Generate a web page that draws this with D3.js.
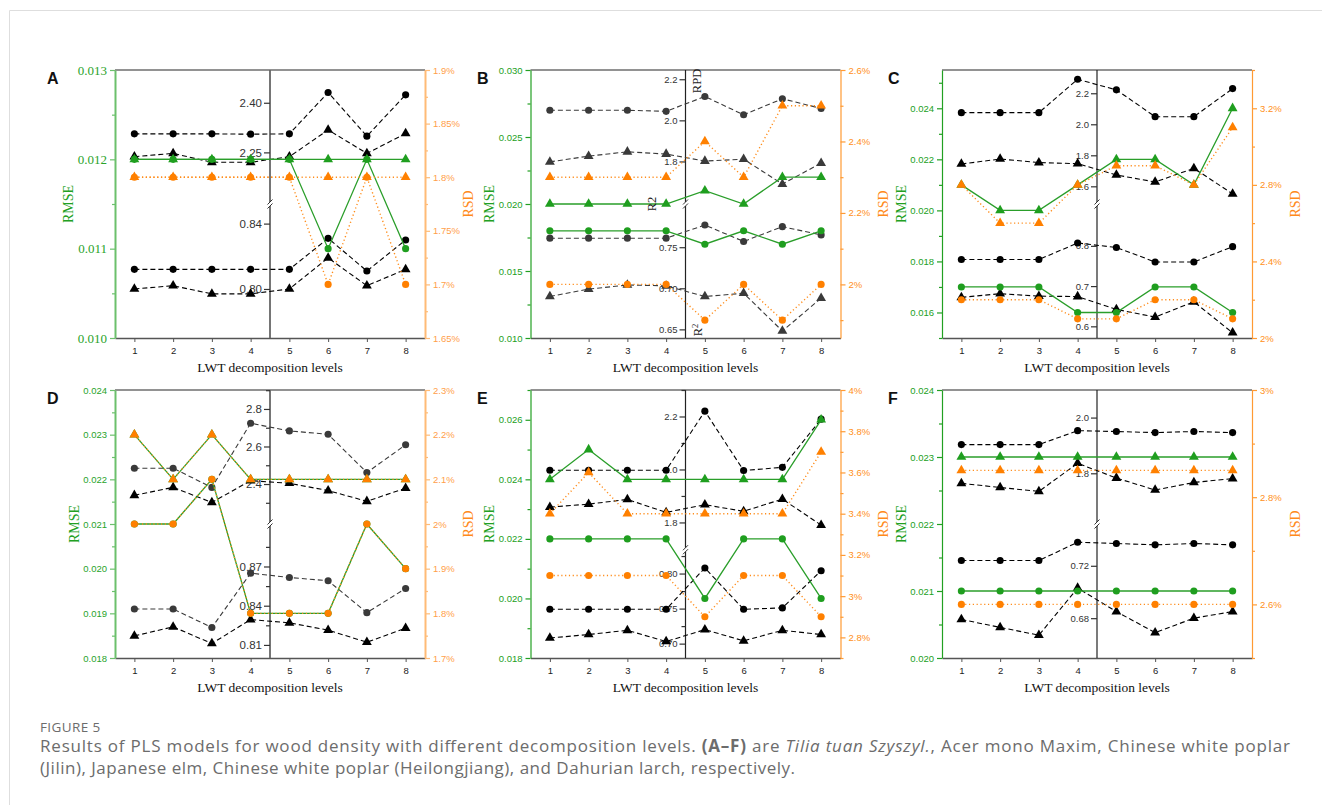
<!DOCTYPE html>
<html>
<head>
<meta charset="utf-8">
<script src="https://cdn.jsdelivr.net/npm/d3@7"></script>
<style>
  body { margin: 0; background: #fff; }
  svg { display: block; }
</style>
</head>
<body>
<svg id="fig" width="1322" height="805"></svg>
<script>
// LWT decomposition levels shared by every panel
const levels = [1, 2, 3, 4, 5, 6, 7, 8];

// ---- Panel A: Tilia tuan Szyszyl. ----
const rmseCalA = [0.012, 0.012, 0.012, 0.012, 0.012, 0.011, 0.012, 0.011];
const rmsePreA = [0.012, 0.012, 0.012, 0.012, 0.012, 0.012, 0.012, 0.012];
const rsdCalA  = [1.8, 1.8, 1.8, 1.8, 1.8, 1.7, 1.8, 1.7];
const rsdPreA  = [1.8, 1.8, 1.8, 1.8, 1.8, 1.8, 1.8, 1.8];
const rpdCalA  = [2.306, 2.306, 2.306, 2.305, 2.306, 2.431, 2.299, 2.424];
const rpdPreA  = [2.237, 2.247, 2.220, 2.220, 2.237, 2.318, 2.247, 2.307];
const r2CalA   = [0.812, 0.812, 0.812, 0.812, 0.812, 0.831, 0.811, 0.830];
const r2PreA   = [0.800, 0.802, 0.797, 0.797, 0.800, 0.819, 0.802, 0.812];

// ---- Panel B: Acer mono Maxim ----
const rmseCalB = [0.018, 0.018, 0.018, 0.018, 0.017, 0.018, 0.017, 0.018];
const rmsePreB = [0.020, 0.020, 0.020, 0.020, 0.021, 0.020, 0.022, 0.022];
const rsdCalB  = [2.0, 2.0, 2.0, 2.0, 1.9, 2.0, 1.9, 2.0];
const rsdPreB  = [2.3, 2.3, 2.3, 2.3, 2.4, 2.3, 2.5, 2.5];
const rpdCalB  = [2.049, 2.049, 2.049, 2.044, 2.116, 2.027, 2.105, 2.058];
const rpdPreB  = [1.798, 1.826, 1.847, 1.836, 1.802, 1.811, 1.690, 1.792];
const r2CalB   = [0.761, 0.761, 0.761, 0.761, 0.777, 0.757, 0.775, 0.765];
const r2PreB   = [0.690, 0.699, 0.704, 0.703, 0.690, 0.694, 0.648, 0.688];

// ---- Panel C: Chinese white poplar (Jilin) ----
const rmseCalC = [0.017, 0.017, 0.017, 0.016, 0.016, 0.017, 0.017, 0.016];
const rmsePreC = [0.021, 0.020, 0.020, 0.021, 0.022, 0.022, 0.021, 0.024];
const rsdCalC  = [2.2, 2.2, 2.2, 2.1, 2.1, 2.2, 2.2, 2.1];
const rsdPreC  = [2.8, 2.6, 2.6, 2.8, 2.9, 2.9, 2.8, 3.1];
const rpdCalC  = [2.075, 2.075, 2.075, 2.290, 2.222, 2.049, 2.049, 2.230];
const rpdPreC  = [1.744, 1.776, 1.753, 1.746, 1.673, 1.628, 1.716, 1.551];
const r2CalC   = [0.766, 0.766, 0.766, 0.807, 0.796, 0.760, 0.760, 0.798];
const r2PreC   = [0.672, 0.681, 0.675, 0.674, 0.642, 0.623, 0.661, 0.584];

// ---- Panel D: Japanese elm ----
const rmseCalD = [0.021, 0.021, 0.022, 0.019, 0.019, 0.019, 0.021, 0.020];
const rmsePreD = [0.023, 0.022, 0.023, 0.022, 0.022, 0.022, 0.022, 0.022];
const rsdCalD  = [2.0, 2.0, 2.1, 1.8, 1.8, 1.8, 2.0, 1.9];
const rsdPreD  = [2.2, 2.1, 2.2, 2.1, 2.1, 2.1, 2.1, 2.1];
const rpdCalD  = [2.484, 2.484, 2.382, 2.724, 2.683, 2.665, 2.461, 2.609];
const rpdPreD  = [2.340, 2.382, 2.302, 2.418, 2.404, 2.365, 2.308, 2.378];
const r2CalD   = [0.8375, 0.8375, 0.8233, 0.8649, 0.8616, 0.8591, 0.8347, 0.8532];
const r2PreD   = [0.8169, 0.8238, 0.8111, 0.8294, 0.8269, 0.8213, 0.8121, 0.8228];

// ---- Panel E: Chinese white poplar (Heilongjiang) ----
const rmseCalE = [0.022, 0.022, 0.022, 0.022, 0.020, 0.022, 0.022, 0.020];
const rmsePreE = [0.024, 0.025, 0.024, 0.024, 0.024, 0.024, 0.024, 0.026];
const rsdCalE  = [3.1, 3.1, 3.1, 3.1, 2.9, 3.1, 3.1, 2.9];
const rsdPreE  = [3.4, 3.6, 3.4, 3.4, 3.4, 3.4, 3.4, 3.7];
const rpdCalE  = [1.997, 1.997, 1.997, 1.997, 2.220, 1.996, 2.008, 2.190];
const rpdPreE  = [1.858, 1.869, 1.887, 1.838, 1.867, 1.842, 1.888, 1.790];
const r2CalE   = [0.749, 0.749, 0.749, 0.749, 0.808, 0.749, 0.751, 0.804];
const r2PreE   = [0.708, 0.713, 0.719, 0.703, 0.720, 0.704, 0.719, 0.713];

// ---- Panel F: Dahurian larch ----
const rmseCalF = [0.021, 0.021, 0.021, 0.021, 0.021, 0.021, 0.021, 0.021];
const rmsePreF = [0.023, 0.023, 0.023, 0.023, 0.023, 0.023, 0.023, 0.023];
const rsdCalF  = [2.6, 2.6, 2.6, 2.6, 2.6, 2.6, 2.6, 2.6];
const rsdPreF  = [2.85, 2.85, 2.85, 2.85, 2.85, 2.85, 2.85, 2.85];
const rpdCalF  = [1.903, 1.903, 1.903, 1.953, 1.950, 1.946, 1.950, 1.946];
const rpdPreF  = [1.764, 1.749, 1.735, 1.836, 1.783, 1.740, 1.767, 1.781];
const r2CalF   = [0.724, 0.724, 0.724, 0.738, 0.737, 0.736, 0.737, 0.736];
const r2PreF   = [0.679, 0.673, 0.667, 0.703, 0.685, 0.669, 0.680, 0.685];

// Tick values for each panel's axes
const rmseTicksA = [0.010, 0.011, 0.012, 0.013];
const rmseTicksB = [0.010, 0.015, 0.020, 0.025, 0.030];
const rmseTicksC = [0.016, 0.018, 0.020, 0.022, 0.024];
const rmseTicksD = [0.018, 0.019, 0.020, 0.021, 0.022, 0.023, 0.024];
const rmseTicksE = [0.018, 0.020, 0.022, 0.024, 0.026];
const rmseTicksF = [0.020, 0.021, 0.022, 0.023, 0.024];

const rsdTicksA = [1.65, 1.70, 1.75, 1.80, 1.85, 1.90];
const rsdTicksB = [2.0, 2.2, 2.4, 2.6];
const rsdTicksC = [2.0, 2.4, 2.8, 3.2];
const rsdTicksD = [1.7, 1.8, 1.9, 2.0, 2.1, 2.2, 2.3];
const rsdTicksE = [2.8, 3.0, 3.2, 3.4, 3.6, 3.8, 4.0];
const rsdTicksF = [2.6, 2.8, 3.0];

const rpdTicksA = [2.25, 2.40];  const r2TicksA = [0.80, 0.84];
const rpdTicksB = [1.8, 2.0, 2.2]; const r2TicksB = [0.65, 0.70, 0.75];
const rpdTicksC = [1.6, 1.8, 2.0, 2.2]; const r2TicksC = [0.6, 0.7, 0.8];
const rpdTicksD = [2.4, 2.6, 2.8]; const r2TicksD = [0.81, 0.84, 0.87];
const rpdTicksE = [1.8, 2.0, 2.2]; const r2TicksE = [0.70, 0.75, 0.80];
const rpdTicksF = [1.8, 2.0];      const r2TicksF = [0.68, 0.72];

// Panel table assembled from the arrays above, plus axis ranges and styling
const panels = [
  { id: "A", rmseCal: rmseCalA, rmsePre: rmsePreA, rsdCal: rsdCalA, rsdPre: rsdPreA,
    rpdCal: rpdCalA, rpdPre: rpdPreA, r2Cal: r2CalA, r2Pre: r2PreA,
    rmseDom: [0.010, 0.013], rmseTicks: rmseTicksA, rsdDom: [1.65, 1.90], rsdTicks: rsdTicksA,
    rpdDom: [2.094, 2.499], rpdTicks: rpdTicksA, r2Dom: [0.770, 0.852], r2Ticks: r2TicksA,
    midFmt: ".2f", brk: 0.5, soft: true, serifLeft: true, midMinor: false, calInk: "#000", preInk: "#000" },
  { id: "B", rmseCal: rmseCalB, rmsePre: rmsePreB, rsdCal: rsdCalB, rsdPre: rsdPreB,
    rpdCal: rpdCalB, rpdPre: rpdPreB, r2Cal: r2CalB, r2Pre: r2PreB,
    rmseDom: [0.010, 0.030], rmseTicks: rmseTicksB, rsdDom: [1.85, 2.60], rsdTicks: rsdTicksB,
    rpdDom: [1.593, 2.245], rpdTicks: rpdTicksB, r2Dom: [0.6395, 0.8026], r2Ticks: r2TicksB,
    rpdFmt: ".1f", r2Fmt: ".2f", brk: 0.5, midMinor: false, names: true, calInk: "#3a3a3a", preInk: "#3a3a3a" },
  { id: "C", rmseCal: rmseCalC, rmsePre: rmsePreC, rsdCal: rsdCalC, rsdPre: rsdPreC,
    rpdCal: rpdCalC, rpdPre: rpdPreC, r2Cal: r2CalC, r2Pre: r2PreC,
    rmseDom: [0.015, 0.0255], rmseTicks: rmseTicksC, rsdDom: [2.0, 3.4], rsdTicks: rsdTicksC,
    rpdDom: [1.486, 2.35], rpdTicks: rpdTicksC, r2Dom: [0.571, 0.904], r2Ticks: r2TicksC,
    rpdFmt: ".1f", r2Fmt: ".1f", brk: 0.5, midMinor: false, calInk: "#000", preInk: "#000" },
  { id: "D", rmseCal: rmseCalD, rmsePre: rmsePreD, rsdCal: rsdCalD, rsdPre: rsdPreD,
    rpdCal: rpdCalD, rpdPre: rpdPreD, r2Cal: r2CalD, r2Pre: r2PreD,
    rmseDom: [0.018, 0.024], rmseTicks: rmseTicksD, rsdDom: [1.7, 2.3], rsdTicks: rsdTicksD,
    rpdDom: [2.187, 2.901], rpdTicks: rpdTicksD, r2Dom: [0.800, 0.9025], r2Ticks: r2TicksD,
    rpdFmt: ".1f", r2Fmt: ".2f", brk: 0.5, soft: true, bigMid: true, midMinor: true, calInk: "#3a3a3a", preInk: "#000" },
  { id: "E", rmseCal: rmseCalE, rmsePre: rmsePreE, rsdCal: rsdCalE, rsdPre: rsdPreE,
    rpdCal: rpdCalE, rpdPre: rpdPreE, r2Cal: r2CalE, r2Pre: r2PreE,
    rmseDom: [0.018, 0.027], rmseTicks: rmseTicksE, rsdDom: [2.7, 4.0], rsdTicks: rsdTicksE,
    rpdDom: [1.697, 2.30], rpdTicks: rpdTicksE, r2Dom: [0.6795, 0.834], r2Ticks: r2TicksE,
    rpdFmt: ".1f", r2Fmt: ".2f", brk: 0.596, midMinor: true, calInk: "#000", preInk: "#000" },
  { id: "F", rmseCal: rmseCalF, rmsePre: rmsePreF, rsdCal: rsdCalF, rsdPre: rsdPreF,
    rpdCal: rpdCalF, rpdPre: rpdPreF, r2Cal: r2CalF, r2Pre: r2PreF,
    rmseDom: [0.020, 0.024], rmseTicks: rmseTicksF, rsdDom: [2.5, 3.0], rsdTicks: rsdTicksF,
    rpdDom: [1.618, 2.099], rpdTicks: rpdTicksF, r2Dom: [0.6496, 0.7519], r2Ticks: r2TicksF,
    rpdFmt: ".1f", r2Fmt: ".2f", brk: 0.5, midMinor: false, calInk: "#000", preInk: "#000" }
];

const svg = d3.select("#fig");
svg.append("rect").attr("width", 1322).attr("height", 805).attr("fill", "#fff");
// page frame rule
svg.append("path").attr("d", "M9.5,805V10.5H1322").attr("fill", "none").attr("stroke", "#dedede");

const W = 310, H = 268;
const colX = [115, 530.5, 942], rowY = [70, 390];
const letterX = [47, 477, 888];
const SANS = "'Liberation Sans', Arial, sans-serif";
const SERIF = "'Liberation Serif', 'Times New Roman', serif";

function minorTicks(major, dom) {
  const step = major[1] - major[0];
  const out = [major[0] - step / 2, ...major.map(v => v + step / 2)];
  const lo = Math.min(dom[0], dom[1]) - 1e-9, hi = Math.max(dom[0], dom[1]) + 1e-9;
  return out.filter(v => v >= lo && v <= hi);
}
const pct = v => (+v.toFixed(2)) + "%";

panels.forEach((p, i) => {
  const left = colX[i % 3], top = rowY[Math.floor(i / 3)];
  const g = svg.append("g").attr("transform", `translate(${left},${top})`);

  const greenAxis = p.soft ? "#6cc06c" : "#22a022";
  const greenText = p.soft ? "#2aa32a" : "#22a022";
  const orangeAxis = p.soft ? "#ffbb77" : "#ff9a33";
  const orangeText = p.soft ? "#ffa04a" : "#ff9020";
  const axisW = p.soft ? 2 : 1.2;

  const x = d3.scaleLinear().domain([0.5, 8.5]).range([0, W]);
  const yL = d3.scaleLinear().domain(p.rmseDom).range([H, 0]);
  const yR = d3.scaleLinear().domain(p.rsdDom).range([H, 0]);
  const brkY = H * p.brk;
  const yU = d3.scaleLinear().domain(p.rpdDom).range([brkY, 0]);
  const yLo = d3.scaleLinear().domain(p.r2Dom).range([H, brkY]);
  const xm = x(4.5);

  // top frame line
  g.append("line").attr("x1", 0).attr("x2", W).attr("y1", 0).attr("y2", 0)
    .attr("stroke", "#6e6e6e").attr("stroke-width", 1.5);

  // bottom axis
  const xa = g.append("g").attr("transform", `translate(0,${H})`)
    .call(d3.axisBottom(x).tickValues(levels).tickSize(4).tickSizeOuter(0).tickFormat(d3.format("d")));
  xa.select(".domain").attr("stroke", "#555").attr("stroke-width", 1.3);
  xa.selectAll(".tick line").attr("stroke", "#555");
  xa.selectAll("text").attr("font-family", SANS).attr("font-size", 9.5).attr("fill", "#222").attr("dy", "0.9em");

  // left RMSE axis
  const la = g.append("g")
    .call(d3.axisLeft(yL).tickValues(p.rmseTicks).tickSize(5).tickSizeOuter(0).tickFormat(d3.format(".3f")));
  la.select(".domain").attr("stroke", greenAxis).attr("stroke-width", axisW);
  la.selectAll(".tick line").attr("stroke", greenAxis).attr("stroke-width", 1.2);
  la.selectAll("text").attr("fill", greenText)
    .attr("font-family", p.serifLeft ? SERIF : SANS).attr("font-size", p.serifLeft ? 13 : 9.5);
  const lm = g.append("g")
    .call(d3.axisLeft(yL).tickValues(minorTicks(p.rmseTicks, p.rmseDom)).tickSize(3).tickFormat(""));
  lm.select(".domain").remove();
  lm.selectAll(".tick line").attr("stroke", greenAxis).attr("stroke-width", 1.2);

  // right RSD axis
  const ra = g.append("g").attr("transform", `translate(${W},0)`)
    .call(d3.axisRight(yR).tickValues(p.rsdTicks).tickSize(5).tickSizeOuter(0).tickFormat(pct));
  ra.select(".domain").attr("stroke", orangeAxis).attr("stroke-width", axisW);
  ra.selectAll(".tick line").attr("stroke", orangeAxis).attr("stroke-width", 1.2);
  ra.selectAll("text").attr("fill", orangeText).attr("font-family", SANS).attr("font-size", 9.5);
  const rm = g.append("g").attr("transform", `translate(${W},0)`)
    .call(d3.axisRight(yR).tickValues(minorTicks(p.rsdTicks, p.rsdDom)).tickSize(3).tickFormat(""));
  rm.select(".domain").remove();
  rm.selectAll(".tick line").attr("stroke", orangeAxis).attr("stroke-width", 1.2);

  // broken middle axis (RPD above the break, R² below)
  g.append("line").attr("x1", xm).attr("x2", xm).attr("y1", 0).attr("y2", H)
    .attr("stroke", p.soft ? "#666" : "#222").attr("stroke-width", p.soft ? 1.8 : 1.2);
  const midSize = p.bigMid ? 11.5 : (p.id === "A" ? 11.5 : 9.5);
  const mkMid = (scale, ticks, fmt) => {
    const a = g.append("g").attr("transform", `translate(${xm},0)`)
      .call(d3.axisLeft(scale).tickValues(ticks).tickSize(6).tickFormat(d3.format(fmt)));
    a.select(".domain").remove();
    a.selectAll(".tick line").attr("stroke", "#333").attr("stroke-width", 1.2);
    a.selectAll("text").attr("fill", "#333").attr("font-family", SANS).attr("font-size", midSize).attr("x", -8);
    if (p.midMinor) {
      const dom = scale.domain();
      const m = g.append("g").attr("transform", `translate(${xm},0)`)
        .call(d3.axisLeft(scale).tickValues(minorTicks(ticks, [dom[0] + 0.03 * (dom[1] - dom[0]), dom[1]])).tickSize(4).tickFormat(""));
      m.select(".domain").remove();
      m.selectAll(".tick line").attr("stroke", "#333").attr("stroke-width", 1.2);
    }
  };
  mkMid(yU, p.rpdTicks, p.rpdFmt || p.midFmt);
  mkMid(yLo, p.r2Ticks, p.r2Fmt || p.midFmt);
  // break marks
  g.append("rect").attr("x", xm - 3).attr("y", brkY - 2).attr("width", 6).attr("height", 4).attr("fill", "#fff");
  [-2, 2].forEach(dy => {
    g.append("line").attr("x1", xm - 2.5).attr("x2", xm + 2.5)
      .attr("y1", brkY + dy + 2.5).attr("y2", brkY + dy - 2.5)
      .attr("stroke", "#333").attr("stroke-width", 1);
  });

  // series
  const line = (scale) => d3.line().x((d, k) => x(levels[k])).y(d => scale(d));
  const circle = d3.symbol().type(d3.symbolCircle).size(40);
  const tri = d3.symbol().type(d3.symbolTriangle).size(42);
  const series = [
    { v: p.rpdCal, s: yU, ink: p.calInk, sym: circle, dash: "5,3", w: 1.1, line: p.calInk },
    { v: p.rpdPre, s: yU, ink: p.preInk, sym: tri, dash: "5,3", w: 1.1, line: p.preInk },
    { v: p.r2Cal, s: yLo, ink: p.calInk, sym: circle, dash: "5,3", w: 1.1, line: p.calInk },
    { v: p.r2Pre, s: yLo, ink: p.preInk, sym: tri, dash: "5,3", w: 1.1, line: p.preInk },
    { v: p.rmseCal, s: yL, ink: "#1f9e1f", sym: circle, dash: null, w: 1.3, line: "#2a9e2a" },
    { v: p.rmsePre, s: yL, ink: "#1f9e1f", sym: tri, dash: null, w: 1.3, line: "#2a9e2a" },
    { v: p.rsdCal, s: yR, ink: "#ff8000", sym: circle, dash: "1.2,2.6", w: 1.4, line: "#ff8c1a" },
    { v: p.rsdPre, s: yR, ink: "#ff8000", sym: tri, dash: "1.2,2.6", w: 1.4, line: "#ff8c1a" }
  ];
  series.forEach(se => {
    g.append("path").datum(se.v).attr("d", line(se.s)).attr("fill", "none")
      .attr("stroke", se.line).attr("stroke-width", se.w)
      .attr("stroke-dasharray", se.dash);
    g.selectAll(null).data(se.v).join("path")
      .attr("transform", (d, k) => `translate(${x(levels[k])},${se.s(d)})`)
      .attr("d", se.sym()).attr("fill", se.ink);
  });

  // axis titles
  const offL = p.serifLeft ? 47 : 41;
  g.append("text").attr("transform", `translate(${-offL},${H / 2}) rotate(-90)`)
    .attr("text-anchor", "middle").attr("dy", "0.35em")
    .attr("font-family", SERIF).attr("font-size", 14).attr("fill", "#22a022").text("RMSE");
  g.append("text").attr("transform", `translate(${W + 43},${H / 2}) rotate(-90)`)
    .attr("text-anchor", "middle").attr("dy", "0.35em")
    .attr("font-family", SERIF).attr("font-size", 14).attr("fill", "#ff8a1a").text("RSD");
  g.append("text").attr("x", W / 2).attr("y", H + 34).attr("text-anchor", "middle")
    .attr("font-family", SERIF).attr("font-size", 13.5).attr("fill", "#111")
    .text("LWT decomposition levels");

  if (p.names) {
    const nm = (tx, ty, t, sup) => {
      const tt = g.append("text").attr("transform", `translate(${tx},${ty}) rotate(-90)`)
        .attr("text-anchor", "middle").attr("dy", "0.35em")
        .attr("font-family", SERIF).attr("font-size", 12.5).attr("fill", "#222").text(t);
      if (sup) tt.append("tspan").attr("font-size", 8.5).attr("dy", "-0.45em").text(sup);
    };
    nm(xm + 11, 11, "RPD");
    nm(xm - 34, brkY, "R2");
    nm(xm + 12, H - 8, "R", "2");
  }

  // panel letter
  svg.append("text").attr("x", letterX[i % 3]).attr("y", top + 13.5)
    .attr("font-family", SANS).attr("font-weight", "bold").attr("font-size", 16)
    .attr("fill", "#111").text(p.id);
});

// figure caption
const cap = svg.append("g").attr("font-family", "'Open Sans', 'Noto Sans', sans-serif").attr("fill", "#6c6c6c");
cap.append("text").attr("x", 40).attr("y", 732).attr("font-size", 13.5).attr("letter-spacing", 0.4).text("FIGURE 5");
const l1 = cap.append("text").attr("x", 40).attr("y", 752).attr("font-size", 17)
  .attr("textLength", 1250).attr("lengthAdjust", "spacing");
l1.append("tspan").text("Results of PLS models for wood density with different decomposition levels. ");
l1.append("tspan").attr("font-weight", "bold").text("(A\u2013F)");
l1.append("tspan").text(" are ");
l1.append("tspan").attr("font-style", "italic").text("Tilia tuan Szyszyl.");
l1.append("tspan").text(", Acer mono Maxim, Chinese white poplar");
cap.append("text").attr("x", 40).attr("y", 774).attr("font-size", 17)
  .attr("textLength", 755).attr("lengthAdjust", "spacing")
  .text("(Jilin), Japanese elm, Chinese white poplar (Heilongjiang), and Dahurian larch, respectively.");
</script>
</body>
</html>
